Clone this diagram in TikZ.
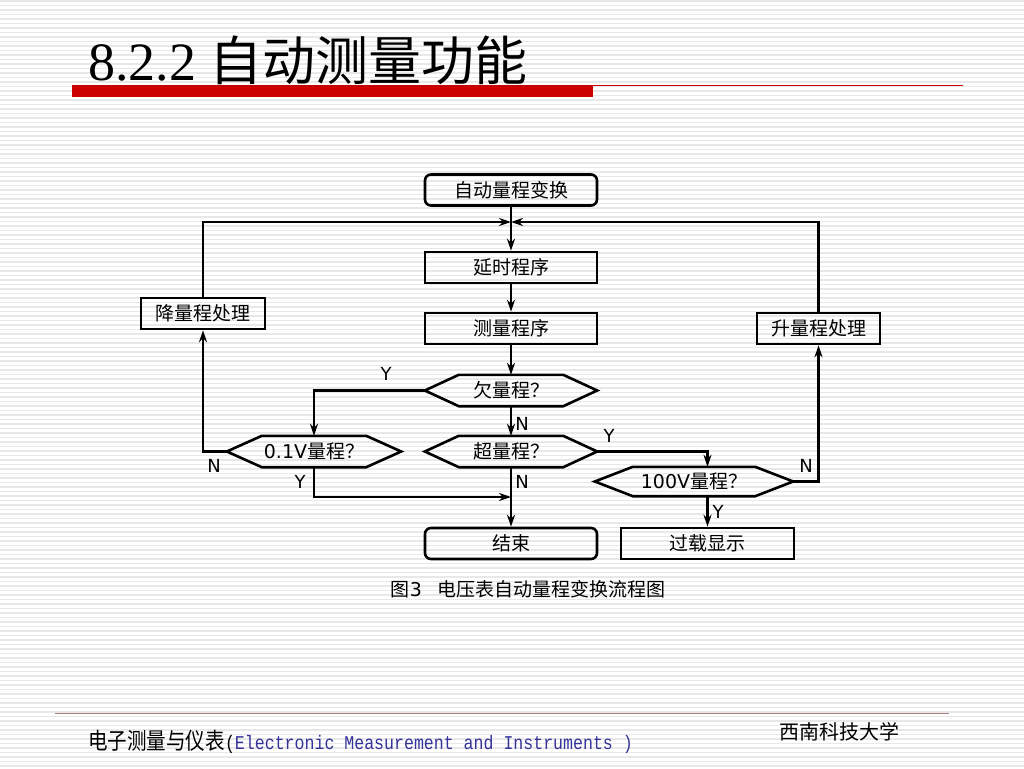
\documentclass[tikz,border=0pt]{standalone}
\usepackage{fontspec}
\usepackage{tikz}
\usetikzlibrary{arrows.meta}
\setmainfont{DejaVu Sans}
\newfontfamily\cjk{Noto Sans CJK SC}
\newfontfamily\lat{DejaVu Sans}
\newfontfamily\titleserif{Liberation Serif}
\newfontfamily\footmono[FakeStretch=0.85]{Liberation Mono}
\newfontfamily\footcjk[FakeStretch=0.85]{Noto Sans CJK SC}
\newcommand{\boxfont}{\cjk\fontsize{19}{21}\selectfont}
\newcommand{\labfont}{\lat\fontsize{18}{20}\selectfont}
\definecolor{titlered}{RGB}{204,0,0}
\definecolor{footblue}{RGB}{51,51,153}
\definecolor{footrule}{RGB}{176,128,128}

\begin{document}
\begin{tikzpicture}[x=1pt, y=-1pt,
		box_style/.style={draw=black, line width=2.6pt, minimum height=31pt, inner sep=0pt, font=\boxfont},
		round_style/.style={box_style, rounded corners=6pt},
		dec_style/.style={minimum height=31pt, inner sep=0pt, font=\boxfont},
		hex_style/.style={draw=black, line width=2.6pt, line join=miter},
		edge_style/.style={draw=black, line width=2.1pt, -{Stealth[length=12pt,width=8pt]}},
		label_style/.style={font=\labfont, inner sep=0pt},
		stripe_style/.style={draw=black!9, line width=1.6pt}]

		% page and stripes
		\fill[white] (0,0) rectangle (1024,768);
		\useasboundingbox (0,0) rectangle (1024,768);
		\foreach \k in {0,...,170}
			\draw[stripe_style] (0,\k*4.5+1) -- (1024,\k*4.5+1);

		% title
		\node[anchor=base west, inner sep=0pt] (title) at (88,81)
			{{\titleserif\fontsize{54}{54}\selectfont 8.2.2 }{\cjk\fontsize{53}{54}\selectfont 自动测量功能}};
		\fill[titlered] (72,85) rectangle (593,97);
		\draw[titlered, line width=1pt] (593,85.5) -- (963,85.5);

		% boxes
		\node[round_style, minimum width=172pt] (start) at (511,190)  {自动量程变换};
		\node[box_style, minimum width=172pt] (delay) at (511,267.5)  {延时程序};
		\node[box_style, minimum width=172pt] (meas) at (511,328.5)  {测量程序};
		\node[box_style, minimum width=124pt] (down) at (203,313.5)  {降量程处理};
		\node[box_style, minimum width=123pt] (up) at (818.5,328.5)  {升量程处理};
		\node[dec_style, minimum width=172pt] (qunder) at (511,390.5)  {欠量程？};
		\node[dec_style, minimum width=174pt] (q01) at (314,451.5)  {{\lat 0.1V}量程？};
		\node[dec_style, minimum width=172pt] (qover) at (511,451.5)  {超量程？};
		\node[dec_style, minimum width=198pt, minimum height=29pt] (q100) at (694,481.5)  {{\lat 100V}量程？};
		\node[round_style, minimum width=172pt] (stop) at (511,543.5)  {结束};
		\node[box_style, minimum width=173pt] (alarm) at (707.5,543.5)  {过载显示};

		% hexagon outlines
		\foreach \n/\d in {qunder/34, q01/35, qover/34, q100/38}
			\draw[hex_style] (\n.west) -- ([xshift=\d pt]\n.north west) -- ([xshift=-\d pt]\n.north east)
				-- (\n.east) -- ([xshift=-\d pt]\n.south east) -- ([xshift=\d pt]\n.south west) -- cycle;

		\coordinate (join) at (511,222);
		\coordinate (merge) at (511,497);

		% connectors
		\draw[edge_style]  (start.south) -- (delay.north);
		\draw[edge_style]  (down.north) |- (join);
		\draw[edge_style]  (up.north) |- (join);
		\draw[edge_style]  (delay) -- (meas);
		\draw[edge_style]  (meas) -- (qunder);
		\draw[edge_style]  (qunder.west) -| (q01.north);
		\draw[edge_style]  (qunder.south) -- (qover.north);
		\draw[edge_style]  (qover.east) -| (q100.north -| alarm.north);
		\draw[edge_style]  (qover.south) -- (stop.north);
		\draw[edge_style]  (q01.south) |- (merge);
		\draw[edge_style]  (q01.west) -| (down.south);
		\draw[edge_style]  (q100.east) -| (up.south);
		\draw[edge_style]  (q100.south -| alarm.north) -- (alarm.north);

		% Y / N labels
		\node[label_style] (l1) at (386,374)  {Y};
		\node[label_style] (l2) at (522,424)  {N};
		\node[label_style] (l3) at (609,436)  {Y};
		\node[label_style] (l4) at (522,482)  {N};
		\node[label_style] (l5) at (300,482)  {Y};
		\node[label_style] (l6) at (214,466)  {N};
		\node[label_style] (l7) at (806,466)  {N};
		\node[label_style] (l8) at (718,512)  {Y};

		% caption
		\node[font=\boxfont, inner sep=0pt] (cap) at (528,589)
			{图{\lat 3}\hspace{15pt}电压表自动量程变换流程图};

		% footer
		\draw[footrule, line width=0.8pt] (55,713) -- (949,713);
		\node[anchor=base west, inner sep=0pt] (foot) at (88,749)
			{{\footcjk\fontsize{23}{24}\selectfont 电子测量与仪表}{\footmono\fontsize{19.5}{22}\selectfont (\textcolor{footblue}{Electronic Measurement and Instruments )}}};
		\node[anchor=base, inner sep=0pt, font=\cjk\fontsize{20}{22}\selectfont] (school) at (839,739) {西南科技大学};
\end{tikzpicture}
\end{document}
